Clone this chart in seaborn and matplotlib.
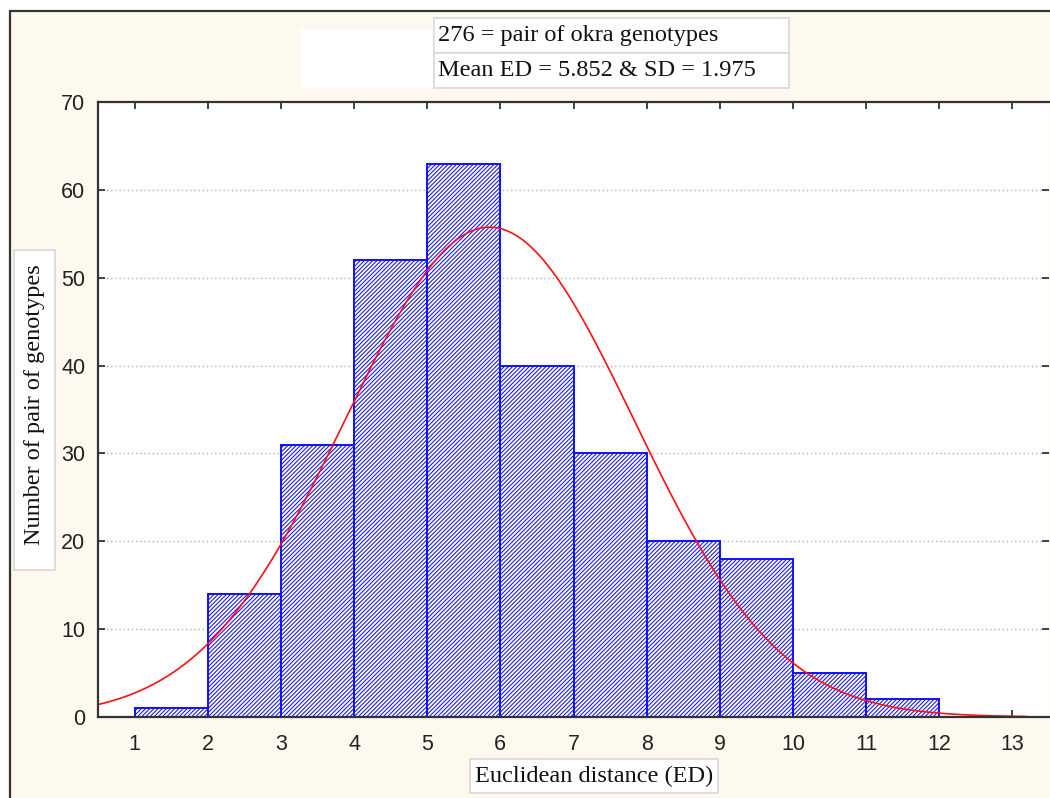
import numpy as np
import pandas as pd
import matplotlib
matplotlib.use('Agg')
import matplotlib.pyplot as plt
import seaborn as sns
from matplotlib.patches import Rectangle

# --- dados ---
bordas = [1, 2, 3, 4, 5, 6, 7, 8, 9, 10, 11, 12, 13]
contagens = [1, 14, 31, 52, 63, 40, 30, 20, 18, 5, 2, 0]
n_pares = 276
media_ed = 5.852
dp_ed = 1.975
x_ticks = list(range(1, 14))
y_ticks = list(range(0, 80, 10))

W, H = 1050, 798
def fx(px): return px / W
def fy(py): return 1 - py / H

sns.set_theme(style="white")
plt.rcParams['hatch.linewidth'] = 0.75

fig = plt.figure(figsize=(10.5, 7.98), dpi=100, facecolor='white')
# moldura creme
fig.patches.append(Rectangle((fx(10), -0.1), 1.2, fy(11) + 0.1, transform=fig.transFigure,
                             facecolor='#FEF9EE', edgecolor='#333333', lw=1.6, zorder=-2))

ax = fig.add_axes([fx(98), fy(717), fx(1049) - fx(98), fy(102) - fy(717)])
ax.set_facecolor('white')

centros = [(a + b) / 2 for a, b in zip(bordas[:-1], bordas[1:])]
df = pd.DataFrame({'ED': centros, 'n': contagens})
sns.histplot(data=df, x='ED', weights='n', bins=bordas, ax=ax,
             facecolor='white', edgecolor='#1010ff', hatch='////////', linewidth=1.4, alpha=1)

# curva normal ajustada (N, média e DP do gráfico)
xs = np.linspace(0.5, 13.2, 300)
ys = n_pares * 1.0 / (dp_ed * np.sqrt(2 * np.pi)) * np.exp(-0.5 * ((xs - media_ed) / dp_ed) ** 2)
sns.lineplot(x=xs, y=ys, ax=ax, color='#ff1010', lw=1.2)

ax.set_xlim(0.5, 13.5)
ax.set_ylim(0, 70)
ax.set_xticks(x_ticks)
ax.set_yticks(y_ticks)
ax.set_xlabel('')
ax.set_ylabel('')
for g in y_ticks[1:-1]:
    ax.axhline(g, color='#b0b0b0', lw=1, ls=(0, (1, 2)), zorder=0)

for s in ['left', 'top', 'bottom']:
    ax.spines[s].set_color('#333333')
    ax.spines[s].set_linewidth(1.6)
ax.spines['right'].set_visible(False)
ax.tick_params(axis='x', direction='in', length=5, width=1.3, color='#333333', top=True, bottom=True,
               pad=12, labelsize=15.5, labelcolor='#222222')
ax.tick_params(axis='y', direction='in', length=5, width=1.3, color='#333333', left=True, right=True,
               pad=9, labelsize=15.5, labelcolor='#222222')
for lab in ax.get_xticklabels() + ax.get_yticklabels():
    lab.set_fontfamily('Liberation Sans')

# caixas de texto
serif = 'Liberation Serif'
fs = 17.5
fig.patches.append(Rectangle((fx(301), fy(88)), fx(434) - fx(301), fy(29) - fy(88),
                             transform=fig.transFigure, facecolor='white', edgecolor='none', zorder=2))
for topo, base, texto in [(18, 53, '276 = pair of okra genotypes'),
                          (53, 88, 'Mean ED = 5.852 & SD = 1.975')]:
    fig.patches.append(Rectangle((fx(434), fy(base)), fx(789) - fx(434), fy(topo) - fy(base),
                                 transform=fig.transFigure, facecolor='white', edgecolor='#d8d8d8',
                                 lw=1.2, zorder=2))
    fig.text(fx(438), fy((topo + base) / 2), texto, ha='left', va='center', fontsize=fs,
             family=serif, color='#111111', zorder=3)

fig.patches.append(Rectangle((fx(470), fy(793)), fx(718) - fx(470), fy(759) - fy(793),
                             transform=fig.transFigure, facecolor='white', edgecolor='#d8d8d8',
                             lw=1.2, zorder=2))
fig.text(fx(594), fy(776), 'Euclidean distance (ED)', ha='center', va='center', fontsize=fs,
         family=serif, color='#111111', zorder=3)

fig.patches.append(Rectangle((fx(14), fy(570)), fx(55) - fx(14), fy(250) - fy(570),
                             transform=fig.transFigure, facecolor='white', edgecolor='#d8d8d8',
                             lw=1.2, zorder=2))
fig.text(fx(35), fy(405), 'Number of pair of genotypes', ha='center', va='center', rotation=90,
         fontsize=fs, family=serif, color='#111111', zorder=3)

fig.savefig('out.png', dpi=100)
